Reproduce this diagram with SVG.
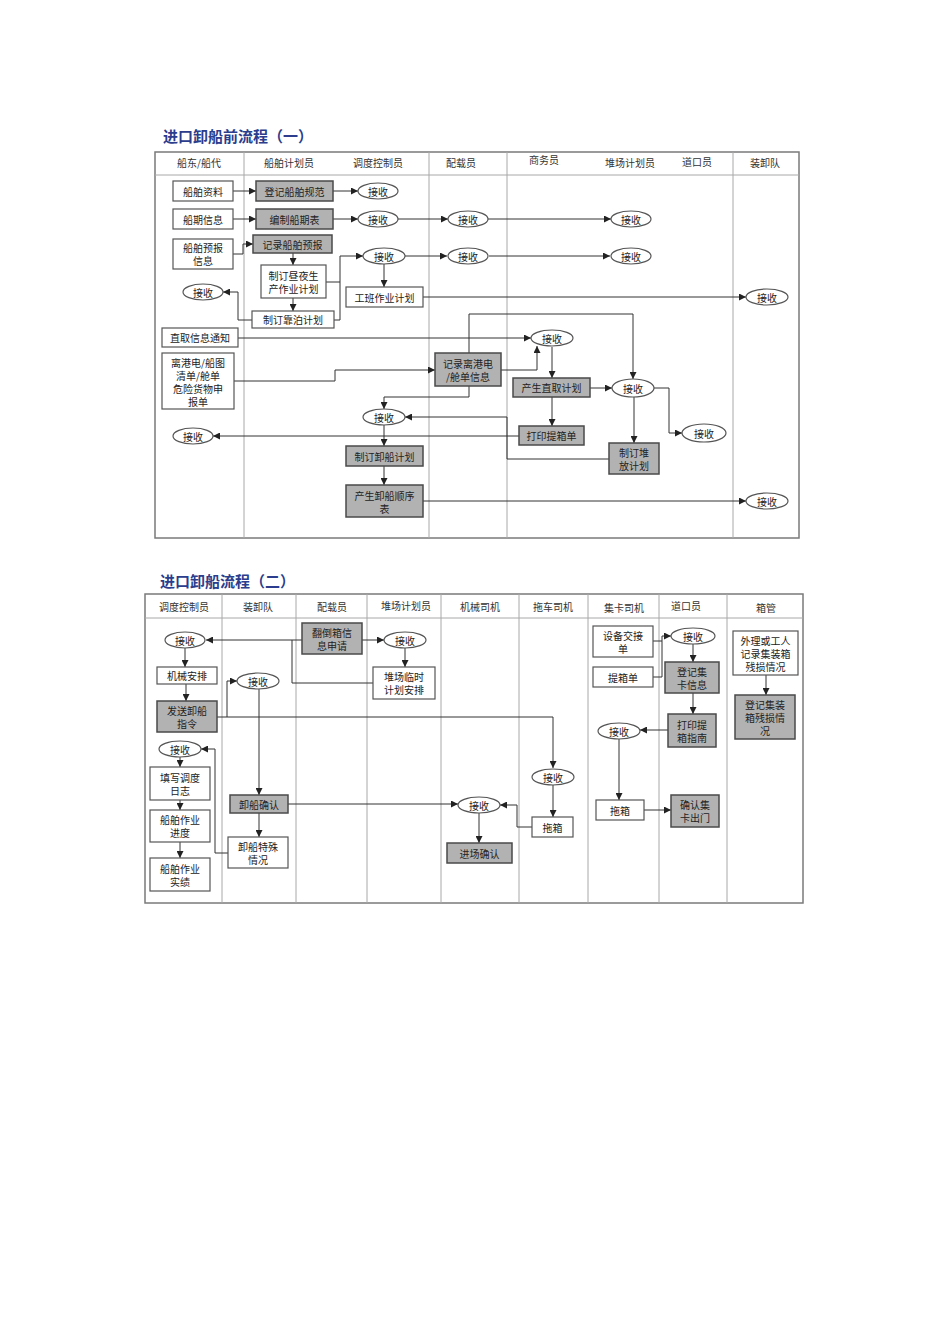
<svg xmlns="http://www.w3.org/2000/svg" width="950" height="1344" viewBox="0 0 950 1344">
<defs>
<marker id="ah" viewBox="0 0 8 8" refX="8" refY="4" markerWidth="7" markerHeight="7" markerUnits="userSpaceOnUse" orient="auto"><path d="M0,0 L8,4 L0,8 z" fill="#222"/></marker>
<style>
.frame{fill:none;stroke:#7a7a7a;stroke-width:1.5}
.lane{stroke:#a8a8a8;stroke-width:1}
.hd{font-family:"Noto Sans CJK SC",sans-serif;font-size:10px;fill:#333;text-anchor:middle;dominant-baseline:central}
.t{font-family:"Noto Sans CJK SC",sans-serif;font-size:10px;fill:#222;text-anchor:middle;dominant-baseline:central}
.title{font-family:"Noto Sans CJK SC",serif;font-size:15px;font-weight:bold;fill:#2b3d8c}
.w{fill:#fff;stroke:#555;stroke-width:1.2}
.g{fill:#b2b2b2;stroke:#4a4a4a;stroke-width:1.5}
.e{fill:#fff;stroke:#555;stroke-width:1.2}
.c path{fill:none;stroke:#333;stroke-width:1}
.a{marker-end:url(#ah)}
</style>
</defs>
<rect width="950" height="1344" fill="#fff"/>

<!-- Diagram 1 -->
<text class="title" x="163" y="142">进口卸船前流程（一）</text>
<rect class="frame" x="155" y="152" width="644" height="386"/>
<line class="lane" x1="155" y1="175" x2="799" y2="175"/>
<line class="lane" x1="244" y1="152" x2="244" y2="538"/>
<line class="lane" x1="429" y1="152" x2="429" y2="538"/>
<line class="lane" x1="507" y1="152" x2="507" y2="538"/>
<line class="lane" x1="733" y1="152" x2="733" y2="538"/>
<text class="hd" x="199" y="162">船东/船代</text>
<text class="hd" x="289" y="162">船舶计划员</text>
<text class="hd" x="378" y="162">调度控制员</text>
<text class="hd" x="461" y="162">配载员</text>
<text class="hd" x="544" y="159">商务员</text>
<text class="hd" x="630" y="162">堆场计划员</text>
<text class="hd" x="697" y="161">道口员</text>
<text class="hd" x="765" y="162">装卸队</text>

<g class="c" id="connectors1">
<path class="a" d="M233,191 H256"/>
<path class="a" d="M333,191 H358"/>
<path class="a" d="M233,219 H256"/>
<path class="a" d="M333,219 H358"/>
<path class="a" d="M398,219 H448"/>
<path class="a" d="M488,219 H611"/>
<path class="a" d="M233,254 H243 V244 H253"/>
<path class="a" d="M293,253 V265"/>
<path class="a" d="M293,298 V311"/>
<path class="a" d="M252,320 H238 V292 H223"/>
<path d="M326,282 H340"/>
<path class="a" d="M334,320 H340 V256 H363"/>
<path class="a" d="M384,264 V287"/>
<path class="a" d="M405,256 H447"/>
<path class="a" d="M489,256 H610"/>
<path class="a" d="M423,297 H746"/>
<path class="a" d="M238,338 H531"/>
<path class="a" d="M234,381 H335 V370 H435"/>
<path class="a" d="M469,353 V314 H633 V379"/>
<path class="a" d="M501,370 H537 V346"/>
<path class="a" d="M552,347 V378"/>
<path class="a" d="M590,388 H612"/>
<path class="a" d="M552,397 V426"/>
<path class="a" d="M654,388 H669 V433 H682"/>
<path class="a" d="M634,397 V443"/>
<path class="a" d="M609,459 H507 V417 H405"/>
<path class="a" d="M519,436 H213"/>
<path class="a" d="M469,386 V397 H384 V409"/>
<path class="a" d="M384,425 V446"/>
<path class="a" d="M384,466 V485"/>
<path class="a" d="M423,501 H746"/>
</g>

<g id="n1"><rect class="w" x="173" y="181" width="60" height="20"/><text class="t" x="203" y="191">船舶资料</text></g>
<g id="n2"><rect class="g" x="256" y="181" width="77" height="20"/><text class="t" x="294.5" y="191">登记船舶规范</text></g>
<g id="n3"><ellipse class="e" cx="378" cy="191" rx="20" ry="8"/><text class="t" x="378" y="191">接收</text></g>
<g id="n4"><rect class="w" x="173" y="209" width="60" height="20"/><text class="t" x="203" y="219">船期信息</text></g>
<g id="n5"><rect class="g" x="256" y="209" width="77" height="20"/><text class="t" x="294.5" y="219">编制船期表</text></g>
<g id="n6"><ellipse class="e" cx="378" cy="219" rx="20" ry="8"/><text class="t" x="378" y="219">接收</text></g>
<g id="n7"><ellipse class="e" cx="468" cy="219" rx="20" ry="8"/><text class="t" x="468" y="219">接收</text></g>
<g id="n8"><ellipse class="e" cx="631" cy="219" rx="20" ry="8"/><text class="t" x="631" y="219">接收</text></g>
<g id="n9"><rect class="w" x="173" y="239" width="60" height="30"/><text class="t" x="203" y="247.5">船舶预报</text><text class="t" x="203" y="260.5">信息</text></g>
<g id="n10"><rect class="g" x="253" y="235" width="79" height="18"/><text class="t" x="292.5" y="244">记录船舶预报</text></g>
<g id="n11"><rect class="w" x="261" y="265" width="65" height="33"/><text class="t" x="293.5" y="275">制订昼夜生</text><text class="t" x="293.5" y="288">产作业计划</text></g>
<g id="n12"><rect class="w" x="252" y="311" width="82" height="17"/><text class="t" x="293" y="319.5">制订靠泊计划</text></g>
<g id="n13"><ellipse class="e" cx="203" cy="292" rx="20" ry="8"/><text class="t" x="203" y="292">接收</text></g>
<g id="n14"><ellipse class="e" cx="384" cy="256" rx="21" ry="8"/><text class="t" x="384" y="256">接收</text></g>
<g id="n15"><ellipse class="e" cx="468" cy="256" rx="20" ry="8"/><text class="t" x="468" y="256">接收</text></g>
<g id="n16"><ellipse class="e" cx="631" cy="256" rx="20" ry="8"/><text class="t" x="631" y="256">接收</text></g>
<g id="n17"><rect class="w" x="346" y="287" width="77" height="20"/><text class="t" x="384.5" y="297">工班作业计划</text></g>
<g id="n18"><ellipse class="e" cx="767" cy="297" rx="21" ry="8"/><text class="t" x="767" y="297">接收</text></g>
<g id="n19"><rect class="w" x="162" y="328" width="76" height="19"/><text class="t" x="200" y="337.5">直取信息通知</text></g>
<g id="n20"><rect class="w" x="162" y="353" width="72" height="56"/><text class="t" x="198" y="362">离港电/船图</text><text class="t" x="198" y="375">清单/舱单</text><text class="t" x="198" y="388">危险货物申</text><text class="t" x="198" y="401">报单</text></g>
<g id="n21"><ellipse class="e" cx="552" cy="338" rx="21" ry="8"/><text class="t" x="552" y="338">接收</text></g>
<g id="n22"><rect class="g" x="435" y="353" width="66" height="33"/><text class="t" x="468" y="363">记录离港电</text><text class="t" x="468" y="376">/舱单信息</text></g>
<g id="n23"><rect class="g" x="513" y="378" width="77" height="19"/><text class="t" x="551.5" y="387.5">产生直取计划</text></g>
<g id="n24"><ellipse class="e" cx="633" cy="388" rx="21" ry="9"/><text class="t" x="633" y="388">接收</text></g>
<g id="n25"><rect class="g" x="519" y="426" width="65" height="19"/><text class="t" x="551.5" y="435.5">打印提箱单</text></g>
<g id="n26"><ellipse class="e" cx="704" cy="433" rx="22" ry="9"/><text class="t" x="704" y="433">接收</text></g>
<g id="n27"><rect class="g" x="609" y="443" width="50" height="31"/><text class="t" x="634" y="452.5">制订堆</text><text class="t" x="634" y="465.5">放计划</text></g>
<g id="n28"><ellipse class="e" cx="384" cy="417" rx="21" ry="8"/><text class="t" x="384" y="417">接收</text></g>
<g id="n29"><ellipse class="e" cx="193" cy="436" rx="20" ry="8"/><text class="t" x="193" y="436">接收</text></g>
<g id="n30"><rect class="g" x="346" y="446" width="77" height="20"/><text class="t" x="384.5" y="456">制订卸船计划</text></g>
<g id="n31"><rect class="g" x="346" y="485" width="77" height="32"/><text class="t" x="384.5" y="495">产生卸船顺序</text><text class="t" x="384.5" y="508">表</text></g>
<g id="n32"><ellipse class="e" cx="767" cy="501" rx="21" ry="8"/><text class="t" x="767" y="501">接收</text></g>

<!-- Diagram 2 -->
<text class="title" x="160" y="587">进口卸船流程（二）</text>
<rect class="frame" x="145" y="594" width="658" height="309"/>
<line class="lane" x1="145" y1="618" x2="803" y2="618"/>
<line class="lane" x1="222" y1="594" x2="222" y2="903"/>
<line class="lane" x1="296" y1="594" x2="296" y2="903"/>
<line class="lane" x1="367" y1="594" x2="367" y2="903"/>
<line class="lane" x1="441" y1="594" x2="441" y2="903"/>
<line class="lane" x1="519" y1="594" x2="519" y2="903"/>
<line class="lane" x1="588" y1="594" x2="588" y2="903"/>
<line class="lane" x1="659" y1="594" x2="659" y2="903"/>
<line class="lane" x1="727" y1="594" x2="727" y2="903"/>
<text class="hd" x="184" y="606">调度控制员</text>
<text class="hd" x="258" y="606">装卸队</text>
<text class="hd" x="332" y="606">配载员</text>
<text class="hd" x="406" y="605">堆场计划员</text>
<text class="hd" x="480" y="606">机械司机</text>
<text class="hd" x="553" y="606">拖车司机</text>
<text class="hd" x="624" y="607">集卡司机</text>
<text class="hd" x="686" y="605">道口员</text>
<text class="hd" x="766" y="607">箱管</text>

<g class="c" id="connectors2">
<path class="a" d="M302,640 H206"/>
<path class="a" d="M362,640 H384"/>
<path d="M373,683 H292 V640"/>
<path class="a" d="M405,648 V667"/>
<path class="a" d="M185,648 V667"/>
<path class="a" d="M186,684 V701"/>
<path class="a" d="M217,717 H553 V768"/>
<path class="a" d="M227,717 V681 H237"/>
<path class="a" d="M259,689 V795"/>
<path class="a" d="M288,804 H458"/>
<path class="a" d="M532,827 H517 V805 H500"/>
<path class="a" d="M479,813 V843"/>
<path class="a" d="M553,785 V817"/>
<path class="a" d="M259,813 V837"/>
<path class="a" d="M228,853 H215 V749 H201"/>
<path class="a" d="M180,757 V767"/>
<path class="a" d="M180,800 V810"/>
<path class="a" d="M180,842 V858"/>
<path class="a" d="M653,641 H662 V636 H671"/>
<path d="M653,677 H662 V641"/>
<path class="a" d="M693,644 V662"/>
<path class="a" d="M693,693 V714"/>
<path class="a" d="M668,730 H640"/>
<path class="a" d="M619,739 V800"/>
<path class="a" d="M644,810 H671"/>
<path class="a" d="M766,675 V695"/>
</g>

<g id="m1"><ellipse class="e" cx="185" cy="640" rx="20" ry="8"/><text class="t" x="185" y="640">接收</text></g>
<g id="m2"><rect class="g" x="302" y="623" width="60" height="31"/><text class="t" x="332" y="632.5">翻倒箱信</text><text class="t" x="332" y="645.5">息申请</text></g>
<g id="m3"><ellipse class="e" cx="405" cy="640" rx="21" ry="8"/><text class="t" x="405" y="640">接收</text></g>
<g id="m4"><rect class="w" x="373" y="667" width="62" height="32"/><text class="t" x="404" y="676.5">堆场临时</text><text class="t" x="404" y="689.5">计划安排</text></g>
<g id="m5"><rect class="w" x="157" y="667" width="60" height="17"/><text class="t" x="187" y="675.5">机械安排</text></g>
<g id="m6"><rect class="g" x="157" y="701" width="60" height="31"/><text class="t" x="187" y="710.5">发送卸船</text><text class="t" x="187" y="723.5">指令</text></g>
<g id="m7"><ellipse class="e" cx="258" cy="681" rx="21" ry="8"/><text class="t" x="258" y="681">接收</text></g>
<g id="m8"><ellipse class="e" cx="553" cy="777" rx="21" ry="8"/><text class="t" x="553" y="777">接收</text></g>
<g id="m9"><rect class="g" x="230" y="795" width="58" height="18"/><text class="t" x="259" y="804">卸船确认</text></g>
<g id="m10"><ellipse class="e" cx="479" cy="805" rx="21" ry="8"/><text class="t" x="479" y="805">接收</text></g>
<g id="m11"><rect class="g" x="447" y="843" width="65" height="20"/><text class="t" x="479.5" y="853">进场确认</text></g>
<g id="m12"><rect class="w" x="532" y="817" width="41" height="20"/><text class="t" x="552.5" y="827">拖箱</text></g>
<g id="m13"><rect class="w" x="228" y="837" width="60" height="31"/><text class="t" x="258" y="846.5">卸船特殊</text><text class="t" x="258" y="859.5">情况</text></g>
<g id="m14"><ellipse class="e" cx="180" cy="749" rx="21" ry="8"/><text class="t" x="180" y="749">接收</text></g>
<g id="m15"><rect class="w" x="150" y="767" width="60" height="33"/><text class="t" x="180" y="777.5">填写调度</text><text class="t" x="180" y="790.5">日志</text></g>
<g id="m16"><rect class="w" x="150" y="810" width="60" height="32"/><text class="t" x="180" y="819.5">船舶作业</text><text class="t" x="180" y="832.5">进度</text></g>
<g id="m17"><rect class="w" x="150" y="858" width="60" height="33"/><text class="t" x="180" y="868">船舶作业</text><text class="t" x="180" y="881">实绩</text></g>
<g id="m18"><rect class="w" x="593" y="626" width="60" height="31"/><text class="t" x="623" y="635.5">设备交接</text><text class="t" x="623" y="648.5">单</text></g>
<g id="m19"><rect class="w" x="593" y="667" width="60" height="20"/><text class="t" x="623" y="677">提箱单</text></g>
<g id="m20"><ellipse class="e" cx="693" cy="636" rx="22" ry="8"/><text class="t" x="693" y="636">接收</text></g>
<g id="m21"><rect class="g" x="665" y="662" width="54" height="31"/><text class="t" x="692" y="671.5">登记集</text><text class="t" x="692" y="684.5">卡信息</text></g>
<g id="m22"><rect class="g" x="668" y="714" width="48" height="33"/><text class="t" x="692" y="724">打印提</text><text class="t" x="692" y="737">箱指南</text></g>
<g id="m23"><ellipse class="e" cx="619" cy="731" rx="21" ry="8"/><text class="t" x="619" y="731">接收</text></g>
<g id="m24"><rect class="w" x="596" y="800" width="48" height="20"/><text class="t" x="620" y="810">拖箱</text></g>
<g id="m25"><rect class="g" x="671" y="795" width="48" height="32"/><text class="t" x="695" y="804.5">确认集</text><text class="t" x="695" y="817.5">卡出门</text></g>
<g id="m26"><rect class="w" x="733" y="631" width="65" height="44"/><text class="t" x="765.5" y="640">外理或工人</text><text class="t" x="765.5" y="653">记录集装箱</text><text class="t" x="765.5" y="666">残损情况</text></g>
<g id="m27"><rect class="g" x="735" y="695" width="60" height="44"/><text class="t" x="765" y="704">登记集装</text><text class="t" x="765" y="717">箱残损情</text><text class="t" x="765" y="730">况</text></g>
</svg>
